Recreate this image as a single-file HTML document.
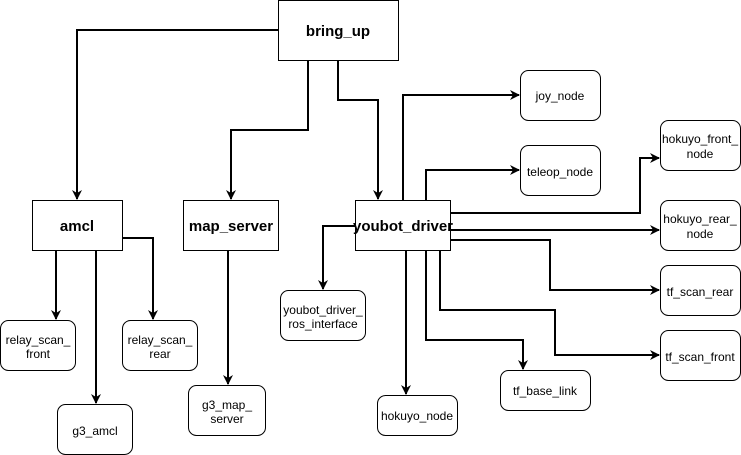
<!DOCTYPE html>
<html><head><meta charset="utf-8"><style>
html,body{margin:0;padding:0;background:#fff;}
svg{display:block;}
text{font-family:"Liberation Sans",sans-serif;fill:#000;}
.n{font-size:12px;}
.b{font-size:15px;font-weight:bold;}
</style></head><body>
<svg width="741" height="455" viewBox="0 0 741 455" xmlns="http://www.w3.org/2000/svg">
<defs>
<marker id="a" markerWidth="10" markerHeight="10" refX="9" refY="5" orient="auto" markerUnits="userSpaceOnUse">
<path d="M0,0 L10,5 L0,10 L3,5 Z" fill="#000"/>
</marker>
</defs>
<g fill="none" stroke="#000" stroke-width="2" marker-end="url(#a)">
<polyline points="278,30 77,30 77,199"/>
<polyline points="308,60 308,130 231,130 231,199"/>
<polyline points="338,60 338,100 378,100 378,199"/>
<polyline points="403,200 403,95 519,95"/>
<polyline points="426,200 426,170 519,170"/>
<polyline points="450,213 640,213 640,158 659,158"/>
<polyline points="450,230 659,230"/>
<polyline points="450,240 550,240 550,290 659,290"/>
<polyline points="440,250 440,310 555,310 555,355 659,355"/>
<polyline points="426,250 426,340 523,340 523,369"/>
<polyline points="406,250 406,394"/>
<polyline points="355,226 323,226 323,289"/>
<polyline points="56,250 56,319"/>
<polyline points="96,250 96,403"/>
<polyline points="122,238 153,238 153,319"/>
<polyline points="228,250 228,384"/>
</g>
<g fill="#fff" stroke="#000" stroke-width="1">
<rect x="278.5" y="0.5" width="120" height="60"/>
<rect x="32.5" y="200.5" width="90" height="50"/>
<rect x="183.5" y="200.5" width="95" height="50"/>
<rect x="355.5" y="200.5" width="95" height="50"/>
<rect x="520.5" y="70.5" width="80" height="50" rx="8"/>
<rect x="520.5" y="145.5" width="80" height="50" rx="8"/>
<rect x="660.5" y="120.5" width="80" height="50" rx="8"/>
<rect x="660.5" y="200.5" width="80" height="50" rx="8"/>
<rect x="660.5" y="265.5" width="80" height="50" rx="8"/>
<rect x="660.5" y="330.5" width="80" height="50" rx="8"/>
<rect x="0.5" y="320.5" width="75" height="50" rx="8"/>
<rect x="122.5" y="320.5" width="75" height="50" rx="8"/>
<rect x="57.5" y="404.5" width="75" height="50" rx="8"/>
<rect x="188.5" y="385.5" width="77" height="50" rx="8"/>
<rect x="280.5" y="290.5" width="85" height="50" rx="8"/>
<rect x="377.5" y="395.5" width="80" height="40" rx="8"/>
<rect x="500.5" y="370.5" width="90" height="40" rx="8"/>
</g>
<g text-anchor="middle">
<text class="b" x="338" y="36">bring_up</text>
<text class="b" x="77" y="231">amcl</text>
<text class="b" x="231" y="231">map_server</text>
<text class="b" x="403" y="231">youbot_driver</text>
<text class="n" x="560" y="100">joy_node</text>
<text class="n" x="560" y="176">teleop_node</text>
<text class="n" x="700" y="143">hokuyo_front_</text>
<text class="n" x="700" y="158">node</text>
<text class="n" x="700" y="223">hokuyo_rear_</text>
<text class="n" x="700" y="238">node</text>
<text class="n" x="700" y="296">tf_scan_rear</text>
<text class="n" x="700" y="361">tf_scan_front</text>
<text class="n" x="38" y="344">relay_scan_</text>
<text class="n" x="38" y="358">front</text>
<text class="n" x="160" y="344">relay_scan_</text>
<text class="n" x="160" y="358">rear</text>
<text class="n" x="95" y="435">g3_amcl</text>
<text class="n" x="227" y="409">g3_map_</text>
<text class="n" x="227" y="423">server</text>
<text class="n" x="323" y="314">youbot_driver_</text>
<text class="n" x="323" y="328">ros_interface</text>
<text class="n" x="417" y="420">hokuyo_node</text>
<text class="n" x="545" y="395">tf_base_link</text>
</g>
</svg>
</body></html>
